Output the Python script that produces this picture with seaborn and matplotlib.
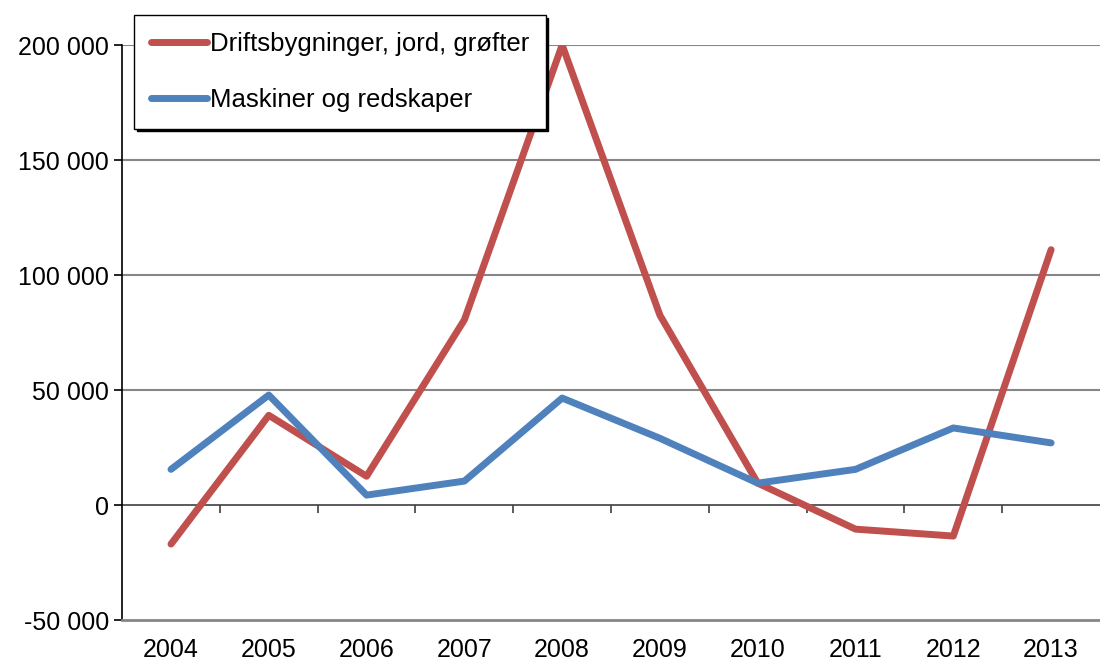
import pandas as pd
import matplotlib.pyplot as plt
import matplotlib.ticker as mticker
import seaborn as sns

# Donnees
aar = ["2004", "2005", "2006", "2007", "2008", "2009", "2010", "2011", "2012", "2013"]
drift = [-17000, 39000, 12500, 80500, 200000, 82500, 9500, -10500, -13500, 111000]
maskin = [15500, 47800, 4300, 10400, 46500, 29000, 9500, 15500, 33500, 27000]

serie_navn = ["Driftsbygninger, jord, grøfter", "Maskiner og redskaper"]
farger = ["#C0504D", "#4F81BD"]

df = pd.DataFrame({
    "aar": aar * 2,
    "verdi": drift + maskin,
    "serie": [serie_navn[0]] * len(aar) + [serie_navn[1]] * len(aar),
})

sns.set_theme(style="white")
plt.rcParams["font.family"] = ["Liberation Sans", "DejaVu Sans"]
plt.rcParams["text.color"] = "black"
plt.rcParams["xtick.color"] = "black"
plt.rcParams["ytick.color"] = "black"

fig = plt.figure(figsize=(11, 6.6), dpi=100)
ax = fig.add_axes([0.111, 0.0606, 0.889, 0.8712])

sns.lineplot(data=df, x="aar", y="verdi", hue="serie", palette=farger,
             linewidth=5, sort=False, ax=ax, legend=True)
for ln in ax.lines:
    ln.set_solid_capstyle("round")
    ln.set_solid_joinstyle("round")

ax.set_xlim(-0.5, len(aar) - 0.5)
ax.set_ylim(-50000, 200000)
ax.set_yticks([-50000, 0, 50000, 100000, 150000, 200000])
ax.yaxis.set_major_formatter(mticker.FuncFormatter(lambda v, p: f"{v:,.0f}".replace(",", " ")))

# Rutenett grått, nullinje mørk
for v in [50000, 100000, 150000, 200000]:
    ax.axhline(v, color="#868686", linewidth=1.5, zorder=0)
ax.axhline(0, color="#404040", linewidth=1.2, zorder=1)

ax.set_xlabel("")
ax.set_ylabel("")
for s in ["top", "right"]:
    ax.spines[s].set_visible(False)
ax.spines["left"].set_color("black")
ax.spines["left"].set_linewidth(1.2)
ax.spines["bottom"].set_color("#868686")
ax.spines["bottom"].set_linewidth(2)

ax.tick_params(axis="x", length=0, labelsize=18, pad=13, labelcolor="black")
ax.tick_params(axis="y", length=6, width=1.2, direction="out", labelsize=18,
               color="black", labelcolor="black", left=True)

# Tick-merker paa nullinjen mellom kategoriene
sec = ax.secondary_xaxis(0.2)
sec.set_xticks([i + 0.5 for i in range(len(aar) - 1)])
sec.set_xticklabels([])
sec.tick_params(axis="x", direction="out", length=6, width=1.2, color="#404040")
sec.spines["bottom"].set_visible(False)

handles, labels = ax.get_legend_handles_labels()
for h in handles:
    h.set_solid_capstyle("round")
leg = ax.legend(handles, labels, loc="upper left", bbox_to_anchor=(0.012, 1.052),
                borderaxespad=0, frameon=True, fancybox=False, fontsize=18.5,
                handlelength=2.2, handletextpad=0.1, labelspacing=1.25,
                borderpad=0.65, shadow={"color": "black", "alpha": 1})
leg.get_frame().set_edgecolor("black")
leg.get_frame().set_linewidth(1.0)
leg.get_frame().set_alpha(1)
for t in leg.get_texts():
    t.set_color("black")

fig.savefig("out.png", dpi=100)
